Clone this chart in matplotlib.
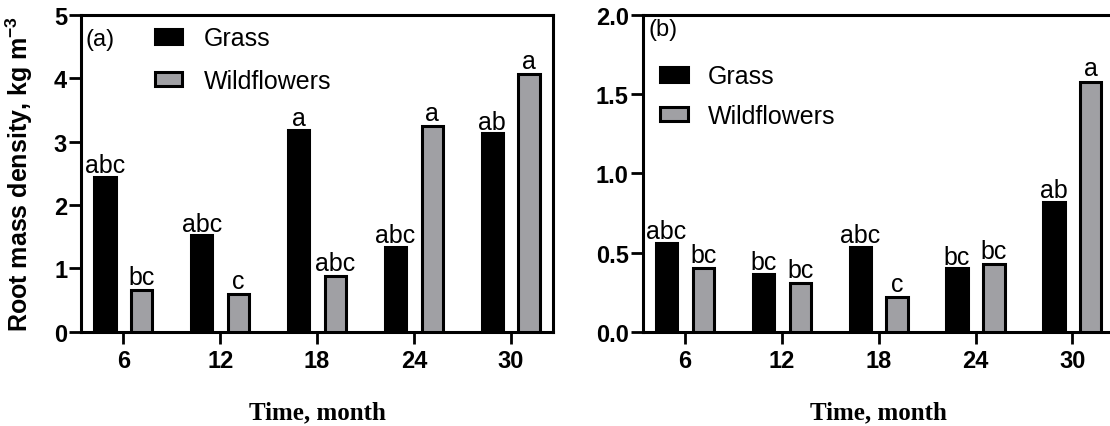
import numpy as np
import matplotlib.pyplot as plt
from matplotlib.patches import Patch

plt.rcParams['font.family'] = ['Liberation Sans', 'DejaVu Sans']
plt.rcParams['mathtext.fontset'] = 'custom'
plt.rcParams['mathtext.rm'] = 'Liberation Sans'
plt.rcParams['mathtext.bf'] = 'Liberation Sans:bold'

months = ['6', '12', '18', '24', '30']

# panel (a) root mass density, kg m-3
grass_a = [2.45, 1.52, 3.19, 1.34, 3.13]
wild_a = [0.66, 0.59, 0.88, 3.24, 4.07]
grass_a_lab = ['abc', 'abc', 'a', 'abc', 'ab']
wild_a_lab = ['bc', 'c', 'abc', 'a', 'a']

# panel (b)
grass_b = [0.56, 0.365, 0.535, 0.40, 0.82]
wild_b = [0.40, 0.305, 0.22, 0.425, 1.58]
grass_b_lab = ['abc', 'bc', 'abc', 'bc', 'ab']
wild_b_lab = ['bc', 'bc', 'c', 'bc', 'a']

gray = '#a0a0a4'
bar_width = 0.22
off = 0.19
lw = 2.2


def draw_panel(ax, grass, wild, g_lab, w_lab, ylim, yticks, ylabels, tag, tag_pos):
    index = np.arange(len(months))
    ax.bar(index - off, grass, bar_width, color='black', edgecolor='black',
           linewidth=lw, label='Grass', zorder=3)
    ax.bar(index + off, wild, bar_width, color=gray, edgecolor='black',
           linewidth=lw, label='Wildflowers', zorder=3)
    for i in range(len(months)):
        ax.annotate(g_lab[i], (index[i] - off, grass[i]), xytext=(0, 3.5),
                    textcoords='offset points', ha='center', va='baseline', fontsize=18)
        ax.annotate(w_lab[i], (index[i] + off, wild[i]), xytext=(0, 4.5),
                    textcoords='offset points', ha='center', va='baseline', fontsize=18)
    ax.set_xlim(-0.437, 4.44)
    ax.set_ylim(*ylim)
    ax.set_yticks(yticks)
    ax.set_yticklabels(ylabels, fontweight='bold', fontsize=17)
    ax.set_xticks(index)
    ax.set_xticklabels(months, fontweight='bold', fontsize=17)
    ax.tick_params(axis='y', length=8.5, width=2, direction='out', pad=1.5)
    ax.tick_params(axis='x', length=8.5, width=2, direction='out', pad=4)
    for s in ax.spines.values():
        s.set_linewidth(2.2)
    ax.set_xlabel('Time, month', family='Liberation Serif', fontweight='bold',
                  fontsize=18, labelpad=20)
    ax.text(tag_pos[0], tag_pos[1], tag, transform=ax.transAxes, fontsize=17,
            va='center', ha='left')


fig = plt.figure(figsize=(11.1, 4.27), dpi=100)
ax1 = fig.add_axes([0.073, 0.2208, 0.4255, 0.7417])
ax2 = fig.add_axes([0.579, 0.2208, 0.4255, 0.7417])

draw_panel(ax1, grass_a, wild_a, grass_a_lab, wild_a_lab, (0, 5),
           [0, 1, 2, 3, 4, 5], ['0', '1', '2', '3', '4', '5'], '(a)', (0.01, 0.923))
ax1.set_ylabel(r'Root mass density, kg m$^{\mathbf{-3}}$', fontweight='bold', fontsize=18)
ax1.yaxis.set_label_coords(-0.097, 0.5)

draw_panel(ax2, grass_b, wild_b, grass_b_lab, wild_b_lab, (0, 2),
           [0, 0.5, 1.0, 1.5, 2.0], ['0.0', '0.5', '1.0', '1.5', '2.0'], '(b)', (0.013, 0.956))

handles = [Patch(facecolor='black', edgecolor='black', linewidth=lw, label='Grass'),
           Patch(facecolor=gray, edgecolor='black', linewidth=lw, label='Wildflowers')]
ax1.legend(handles=handles, loc='upper left', bbox_to_anchor=(0.138, 0.992),
           frameon=False, fontsize=18, handlelength=1.1, handleheight=0.52,
           handletextpad=0.85, labelspacing=0.74, borderpad=0.35, borderaxespad=0)
ax2.legend(handles=handles, loc='upper left', bbox_to_anchor=(0.0185, 0.872),
           frameon=False, fontsize=18, handlelength=1.1, handleheight=0.52,
           handletextpad=0.8, labelspacing=0.62, borderpad=0.35, borderaxespad=0)

fig.savefig('out.png', dpi=100)
